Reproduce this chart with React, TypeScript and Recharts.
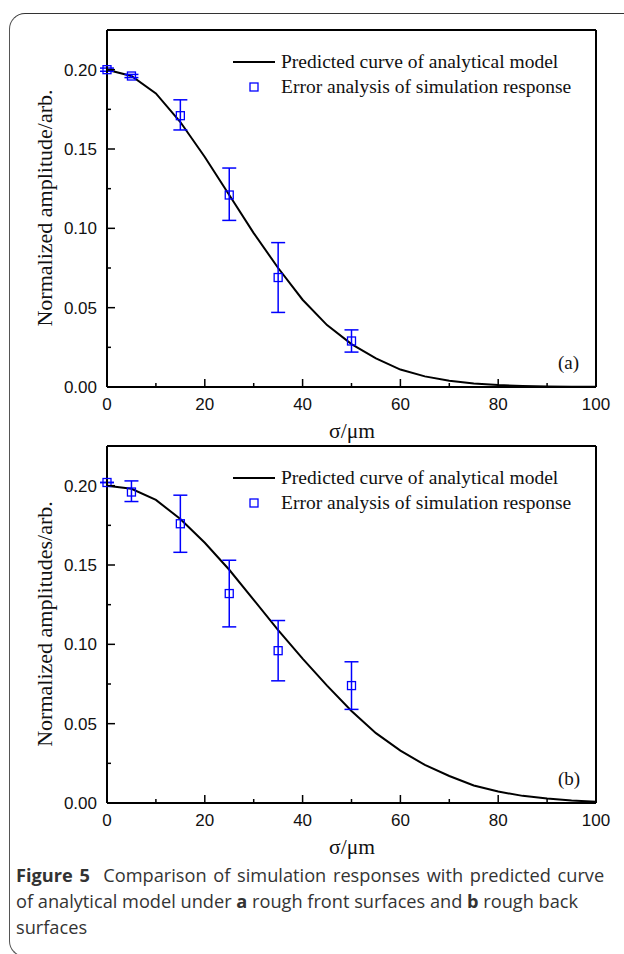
import React from 'react';
import { ComposedChart, Line, Scatter, ErrorBar, XAxis, YAxis } from 'recharts';

// sigma grid of the analytical curves
const sigma = [0, 5, 10, 15, 20, 25, 30, 35, 40, 45, 50, 55, 60, 65, 70, 75, 80, 85, 90, 95, 100];
const curveA = [0.2, 0.196, 0.185, 0.167, 0.145, 0.121, 0.097, 0.075, 0.055, 0.039, 0.027, 0.018, 0.011,
  0.0067, 0.0039, 0.0022, 0.0012, 0.0006, 0.0003, 0.0001, 0.0001];
const curveB = [0.2, 0.198, 0.191, 0.179, 0.164, 0.147, 0.128, 0.109, 0.091, 0.074, 0.058, 0.044, 0.033,
  0.024, 0.017, 0.011, 0.0072, 0.0045, 0.0028, 0.0016, 0.0008];

// simulation points with error ranges
const pointSigma = [0, 5, 15, 25, 35, 50];
const pointsA = [0.2, 0.196, 0.171, 0.121, 0.069, 0.029];
const lowA = [0.199, 0.195, 0.162, 0.105, 0.047, 0.022];
const highA = [0.201, 0.197, 0.181, 0.138, 0.091, 0.036];
const pointsB = [0.202, 0.196, 0.176, 0.132, 0.096, 0.074];
const lowB = [0.202, 0.19, 0.158, 0.111, 0.077, 0.059];
const highB = [0.202, 0.203, 0.194, 0.153, 0.115, 0.089];

const xTicks = [0, 10, 20, 30, 40, 50, 60, 70, 80, 90, 100];
const xMajor = [0, 20, 40, 60, 80, 100];
const yTicks = [0, 0.025, 0.05, 0.075, 0.1, 0.125, 0.15, 0.175, 0.2];
const yMajor = [0, 0.05, 0.1, 0.15, 0.2];

const BLUE = '#0000ff';
const SERIF = '"Liberation Serif", "Times New Roman", serif';
const SANS = '"Liberation Sans", Arial, sans-serif';

const curveData = (ys: number[]) => sigma.map((x, i) => ({ x, y: ys[i] }));
const pointData = (ys: number[], lo: number[], hi: number[]) =>
  pointSigma.map((x, i) => ({ x, y: ys[i], err: [ys[i] - lo[i], hi[i] - ys[i]] }));

const BottomTick = (props: any) => {
  const { x, y, payload } = props;
  const major = xMajor.includes(payload.value);
  return (
    <g>
      <line x1={x} x2={x} y1={y} y2={y - (major ? 8 : 4)} stroke="#000" strokeWidth={1.5} />
      {major && (
        <text x={x} y={y + 23} textAnchor="middle" fontFamily={SANS} fontSize={17} fill="#111">
          {payload.value}
        </text>
      )}
    </g>
  );
};

const TopTick = (props: any) => {
  const { x, y, payload } = props;
  const major = xMajor.includes(payload.value);
  return <line x1={x} x2={x} y1={y} y2={y + (major ? 8 : 4)} stroke="#000" strokeWidth={1.5} />;
};

const LeftTick = (props: any) => {
  const { x, y, payload } = props;
  const major = yMajor.includes(payload.value);
  return (
    <g>
      <line x1={x} x2={x + (major ? 8 : 4)} y1={y} y2={y} stroke="#000" strokeWidth={1.5} />
      {major && (
        <text x={x - 10} y={y + 6} textAnchor="end" fontFamily={SANS} fontSize={17} fill="#111">
          {payload.value.toFixed(2)}
        </text>
      )}
    </g>
  );
};

const RightTick = (props: any) => {
  const { x, y, payload } = props;
  const major = yMajor.includes(payload.value);
  return <line x1={x} x2={x - (major ? 8 : 4)} y1={y} y2={y} stroke="#000" strokeWidth={1.5} />;
};

const SquareDot = (props: any) => {
  const { cx, cy } = props;
  if (cx == null || cy == null) return null;
  return <rect x={cx - 4} y={cy - 4} width={8} height={8} fill="none" stroke={BLUE} strokeWidth={1.3} />;
};

interface PanelProps {
  top: number;
  curve: number[];
  pts: number[];
  lo: number[];
  hi: number[];
  yLabel: string;
  tag: string;
}

const Panel: React.FC<PanelProps> = ({ top, curve, pts, lo, hi, yLabel, tag }) => {
  const axisLine = { stroke: '#000', strokeWidth: 2 };
  return (
    <div style={{ position: 'absolute', left: 0, top, width: 624, height: 445 }}>
      <ComposedChart width={624} height={420} margin={{ top: 29, right: 27, left: 106, bottom: 32 }}>
        <XAxis xAxisId="b" dataKey="x" type="number" domain={[0, 100]} ticks={xTicks} interval={0}
          height={1} tickSize={0} tickMargin={0} tickLine={false} axisLine={axisLine} tick={<BottomTick />} />
        <XAxis xAxisId="t" orientation="top" dataKey="x" type="number" domain={[0, 100]} ticks={xTicks}
          interval={0} height={1} tickSize={0} tickMargin={0} tickLine={false} axisLine={axisLine} tick={<TopTick />} />
        <YAxis yAxisId="l" type="number" domain={[0, 0.225]} ticks={yTicks} interval={0} width={1}
          tickSize={0} tickMargin={0} tickLine={false} axisLine={axisLine} tick={<LeftTick />} />
        <YAxis yAxisId="r" orientation="right" type="number" domain={[0, 0.225]} ticks={yTicks} interval={0}
          width={1} tickSize={0} tickMargin={0} tickLine={false} axisLine={axisLine} tick={<RightTick />} />
        <Line xAxisId="b" yAxisId="l" data={curveData(curve)} dataKey="y" type="linear" stroke="#000"
          strokeWidth={2} dot={false} isAnimationActive={false} />
        <Scatter xAxisId="b" yAxisId="l" data={pointData(pts, lo, hi)} dataKey="y" shape={<SquareDot />}
          isAnimationActive={false}>
          <ErrorBar dataKey="err" direction="y" width={7} stroke={BLUE} strokeWidth={1.5} isAnimationActive={false} />
        </Scatter>
      </ComposedChart>

      {/* legend */}
      <div style={{ position: 'absolute', left: 233, top: 49, fontFamily: SERIF, fontSize: 19.5, color: '#111' }}>
        <div style={{ display: 'flex', alignItems: 'center', height: 25 }}>
          <svg width={42} height={10}><line x1={0} x2={42} y1={5} y2={5} stroke="#000" strokeWidth={2} /></svg>
          <span style={{ marginLeft: 6 }}>Predicted curve of analytical model</span>
        </div>
        <div style={{ display: 'flex', alignItems: 'center', height: 25 }}>
          <svg width={42} height={10}><rect x={17} y={1} width={8} height={8} fill="none" stroke={BLUE} strokeWidth={1.3} /></svg>
          <span style={{ marginLeft: 6 }}>Error analysis of simulation response</span>
        </div>
      </div>

      <div style={{ position: 'absolute', left: 558, top: 352, fontFamily: SERIF, fontSize: 19, color: '#111' }}>{tag}</div>

      {/* axis titles */}
      <div style={{ position: 'absolute', left: 45, top: 208, transform: 'translate(-50%, -50%) rotate(-90deg)',
        whiteSpace: 'nowrap', fontFamily: SERIF, fontSize: 22, color: '#111' }}>{yLabel}</div>
      <div style={{ position: 'absolute', left: 352, top: 431, transform: 'translate(-50%, -50%)',
        whiteSpace: 'nowrap', fontFamily: SERIF, fontSize: 21.5, color: '#111' }}>σ/μm</div>
    </div>
  );
};

export default function App() {
  return (
    <div style={{ position: 'absolute', left: 0, top: 0, width: 624, height: 954, overflow: 'hidden', background: '#fff' }}>
      <div style={{ position: 'absolute', left: 9, top: 13, width: 700, height: 942, borderTop: '1px solid #333',
        borderLeft: '1px solid #555', borderBottom: '1px solid #555', borderRadius: '16px 0 0 16px' }} />
      <Panel top={0} curve={curveA} pts={pointsA} lo={lowA} hi={highA} yLabel="Normalized amplitude/arb." tag="(a)" />
      <Panel top={416} curve={curveB} pts={pointsB} lo={lowB} hi={highB} yLabel="Normalized amplitudes/arb." tag="(b)" />
      <div style={{ position: 'absolute', left: 16, top: 862, fontFamily: '"Open Sans", sans-serif',
        fontSize: 18.2, lineHeight: '26px', color: '#333', whiteSpace: 'nowrap' }}>
        <div style={{ wordSpacing: 2 }}><b>Figure 5</b>&nbsp; Comparison of simulation responses with predicted curve</div>
        <div>of analytical model under <b>a</b> rough front surfaces and <b>b</b> rough back</div>
        <div>surfaces</div>
      </div>
    </div>
  );
}
